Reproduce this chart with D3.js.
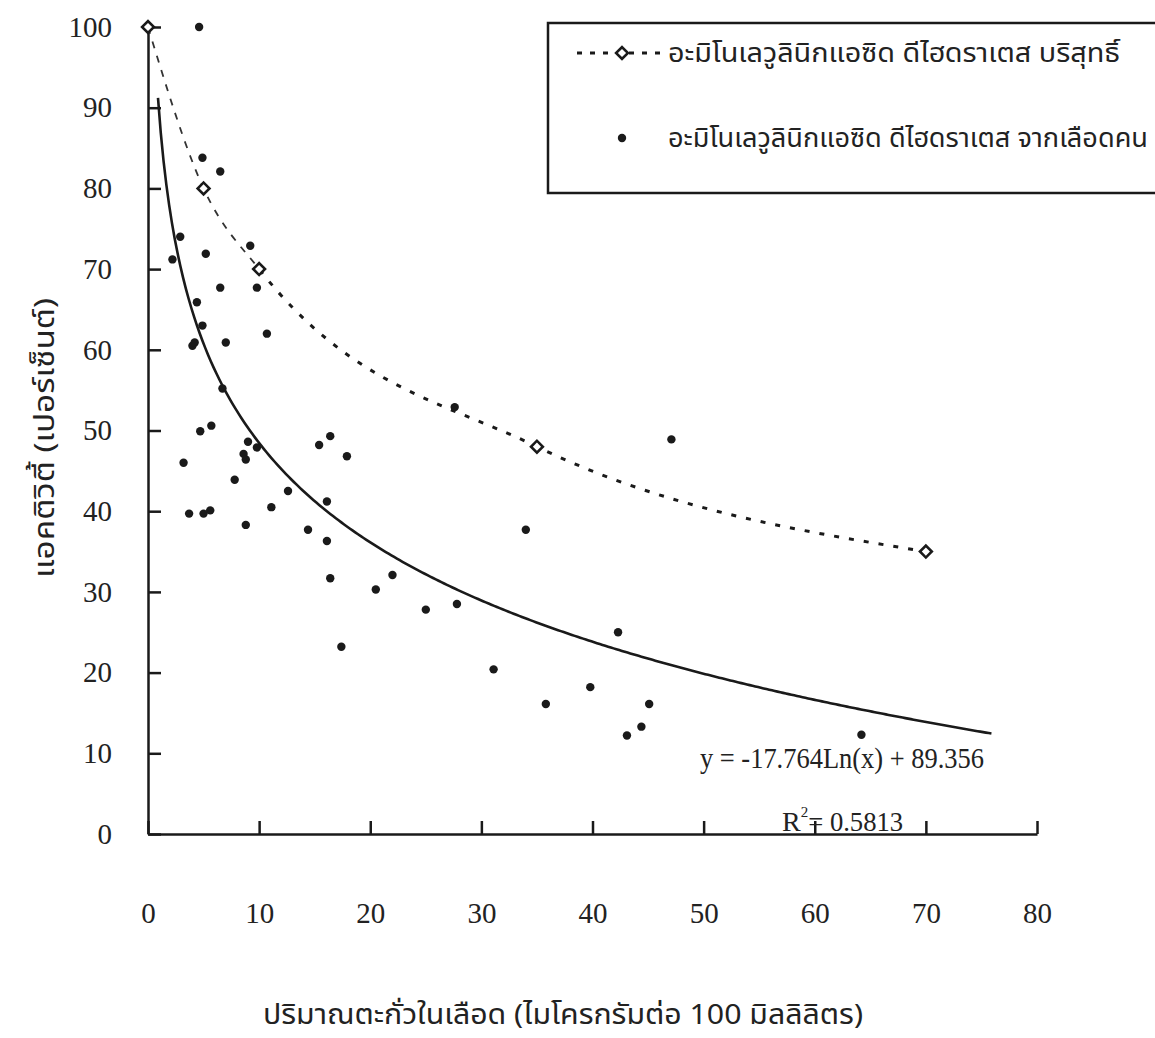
<!DOCTYPE html>
<html>
<head>
<meta charset="utf-8">
<script src="https://cdn.jsdelivr.net/npm/d3@7"></script>
<style>
    body { margin: 0; background: #fff; }
    svg { display: block; }
</style>
</head>
<body>
<div class="chart-container"></div>
<script>
// pure enzyme (dashed, diamonds)
const pureLead = [0, 5, 10, 35, 70];
const pureActivity = [100, 80, 70, 48, 35];

// enzyme from human blood (dots)
const bloodLead = [
    4.6, 4.9, 6.5, 2.9, 2.2, 5.2, 9.2, 6.5, 9.8, 4.4,
    4.9, 10.7, 7.0, 4.0, 4.2, 6.7, 4.7, 5.7, 3.2, 9.0,
    9.8, 8.6, 8.8, 7.8, 15.4, 16.4, 17.9, 12.6, 3.7, 5.0,
    5.6, 11.1, 8.8, 16.1, 14.4, 16.1, 16.4, 20.5, 22.0, 17.4,
    27.6, 47.1, 34.0, 25.0, 27.8, 42.3, 31.1, 35.8, 39.8, 45.1,
    43.1, 44.4, 64.2
];
const bloodActivity = [
    100.0, 83.8, 82.1, 74.0, 71.2, 71.9, 72.9, 67.7, 67.7, 65.9,
    63.0, 62.0, 60.9, 60.5, 60.9, 55.2, 49.9, 50.6, 46.0, 48.6,
    47.9, 47.1, 46.4, 43.9, 48.2, 49.3, 46.8, 42.5, 39.7, 39.7,
    40.1, 40.5, 38.3, 41.2, 37.7, 36.3, 31.7, 30.3, 32.1, 23.2,
    52.9, 48.9, 37.7, 27.8, 28.5, 25.0, 20.4, 16.1, 18.2, 16.1,
    12.2, 13.3, 12.3
];

// logarithmic trendline shown on the chart
const trendSlope = -17.764;
const trendIntercept = 89.356;
const trendR2 = '0.5813';
const trendFrom = 0.9;
const trendTo = 76;

const xTicks = [0, 10, 20, 30, 40, 50, 60, 70, 80];
const yTicks = [0, 10, 20, 30, 40, 50, 60, 70, 80, 90, 100];

const legendLabels = [
    'อะมิโนเลวูลินิกแอซิด ดีไฮดราเตส บริสุทธิ์',
    'อะมิโนเลวูลินิกแอซิด ดีไฮดราเตส จากเลือดคน'
];
const xTitle = 'ปริมาณตะกั่วในเลือด (ไมโครกรัมต่อ 100 มิลลิลิตร)';
const yTitle = 'แอคติวิตี้ (เปอร์เซ็นต์)';

const width = 1155;
const height = 1038;
const numFont = '"Liberation Serif", "Times New Roman", serif';
const thaiFont = '"Noto Sans Thai", "Noto Serif Thai", "Noto Sans", "DejaVu Sans", sans-serif';
const ink = '#1a1a1a';

const svg = d3.select('.chart-container')
    .append('svg')
    .attr('width', width)
    .attr('height', height);

svg.append('rect')
    .attr('width', width)
    .attr('height', height)
    .attr('fill', '#fff');

const x = d3.scaleLinear().domain([0, 80]).range([148, 1037]);
const y = d3.scaleLinear().domain([0, 100]).range([834, 27]);

// axes
const xAxis = svg.append('g')
    .attr('transform', `translate(0,${y(0)})`)
    .call(d3.axisBottom(x)
        .tickValues(xTicks)
        .tickSizeInner(-13)
        .tickSizeOuter(0)
        .tickPadding(68));

const yAxis = svg.append('g')
    .attr('transform', `translate(${x(0)},0)`)
    .call(d3.axisLeft(y)
        .tickValues(yTicks)
        .tickSizeInner(-13)
        .tickSizeOuter(0)
        .tickPadding(36));

[xAxis, yAxis].forEach(g => {
    g.select('.domain').attr('stroke', ink).attr('stroke-width', 2.5);
    g.selectAll('.tick line').attr('stroke', ink).attr('stroke-width', 2.5);
    g.selectAll('.tick text')
        .attr('fill', '#222')
        .style('font-family', numFont)
        .style('font-size', '29px');
});

// dashed smoothed line for the pure enzyme
const pure = pureLead.map((v, i) => ({ x: v, y: pureActivity[i] }));

const pureLine = d3.line()
    .x(d => x(d.x))
    .y(d => y(d.y))
    .curve(d3.curveMonotoneX);

// the first part of the dashed line is printed thinner in the original
const defs = svg.append('defs');
defs.append('clipPath')
    .attr('id', 'clip-head')
    .append('rect')
    .attr('x', 0)
    .attr('y', 0)
    .attr('width', x(pureLead[2]))
    .attr('height', height);
defs.append('clipPath')
    .attr('id', 'clip-tail')
    .append('rect')
    .attr('x', x(pureLead[2]))
    .attr('y', 0)
    .attr('width', width)
    .attr('height', height);

svg.append('path')
    .datum(pure)
    .attr('d', pureLine)
    .attr('clip-path', 'url(#clip-head)')
    .attr('fill', 'none')
    .attr('stroke', '#333')
    .attr('stroke-width', 1.8)
    .attr('stroke-dasharray', '7,8');

svg.append('path')
    .datum(pure)
    .attr('d', pureLine)
    .attr('clip-path', 'url(#clip-tail)')
    .attr('fill', 'none')
    .attr('stroke', ink)
    .attr('stroke-width', 3)
    .attr('stroke-dasharray', '5,10');

// trendline
const trend = d3.range(trendFrom, trendTo + 0.01, 0.25)
    .map(v => ({ x: v, y: trendSlope * Math.log(v) + trendIntercept }));

svg.append('path')
    .datum(trend)
    .attr('d', d3.line().x(d => x(d.x)).y(d => y(d.y)))
    .attr('fill', 'none')
    .attr('stroke', ink)
    .attr('stroke-width', 2.6);

// blood points
svg.append('g')
    .selectAll('circle')
    .data(bloodLead.map((v, i) => ({ x: v, y: bloodActivity[i] })))
    .enter()
    .append('circle')
    .attr('cx', d => x(d.x))
    .attr('cy', d => y(d.y))
    .attr('r', 4.2)
    .attr('fill', ink);

// diamonds
const diamond = d3.symbol().type(d3.symbolSquare).size(70);

svg.append('g')
    .selectAll('path')
    .data(pure)
    .enter()
    .append('path')
    .attr('d', diamond)
    .attr('transform', d => `translate(${x(d.x)},${y(d.y)}) rotate(45)`)
    .attr('fill', '#fff')
    .attr('stroke', ink)
    .attr('stroke-width', 2.6);

// equation + R squared
svg.append('text')
    .attr('x', 700)
    .attr('y', 768)
    .attr('fill', '#222')
    .attr('textLength', 284)
    .attr('lengthAdjust', 'spacingAndGlyphs')
    .style('font-family', numFont)
    .style('font-size', '29px')
    .text(`y = ${trendSlope}Ln(x) + ${trendIntercept}`);

const r2 = svg.append('text')
    .attr('x', 782)
    .attr('y', 831)
    .attr('fill', '#222')
    .style('font-family', numFont)
    .style('font-size', '28px');
r2.append('tspan').text('R');
r2.append('tspan').attr('dy', -14).style('font-size', '15px').text('2');
r2.append('tspan')
    .attr('dy', 14)
    .attr('textLength', 95)
    .attr('lengthAdjust', 'spacingAndGlyphs')
    .text(`= ${trendR2}`);

// legend
const legend = svg.append('g');

legend.append('rect')
    .attr('x', 548)
    .attr('y', 23)
    .attr('width', 630)
    .attr('height', 170)
    .attr('fill', '#fff')
    .attr('stroke', ink)
    .attr('stroke-width', 2.5);

legend.append('line')
    .attr('x1', 577)
    .attr('x2', 662)
    .attr('y1', 53)
    .attr('y2', 53)
    .attr('stroke', ink)
    .attr('stroke-width', 3)
    .attr('stroke-dasharray', '5,8');

legend.append('path')
    .attr('d', diamond)
    .attr('transform', 'translate(622,53) rotate(45)')
    .attr('fill', '#fff')
    .attr('stroke', ink)
    .attr('stroke-width', 2.6);

legend.append('circle')
    .attr('cx', 622)
    .attr('cy', 138)
    .attr('r', 4.2)
    .attr('fill', ink);

legend.selectAll('text')
    .data(legendLabels)
    .enter()
    .append('text')
    .attr('x', 668)
    .attr('y', (d, i) => i === 0 ? 62 : 147)
    .attr('fill', '#222')
    .attr('textLength', (d, i) => i === 0 ? 452 : 480)
    .attr('lengthAdjust', 'spacingAndGlyphs')
    .style('font-family', thaiFont)
    .style('font-size', '26px')
    .text(d => d);

// axis titles
svg.append('text')
    .attr('x', 563)
    .attr('y', 1024)
    .attr('text-anchor', 'middle')
    .attr('fill', '#222')
    .attr('textLength', 600)
    .attr('lengthAdjust', 'spacingAndGlyphs')
    .style('font-family', thaiFont)
    .style('font-size', '28px')
    .text(xTitle);

svg.append('text')
    .attr('transform', 'translate(54,438) rotate(-90)')
    .attr('text-anchor', 'middle')
    .attr('fill', '#222')
    .attr('textLength', 280)
    .attr('lengthAdjust', 'spacingAndGlyphs')
    .style('font-family', thaiFont)
    .style('font-size', '28px')
    .text(yTitle);
</script>
</body>
</html>
